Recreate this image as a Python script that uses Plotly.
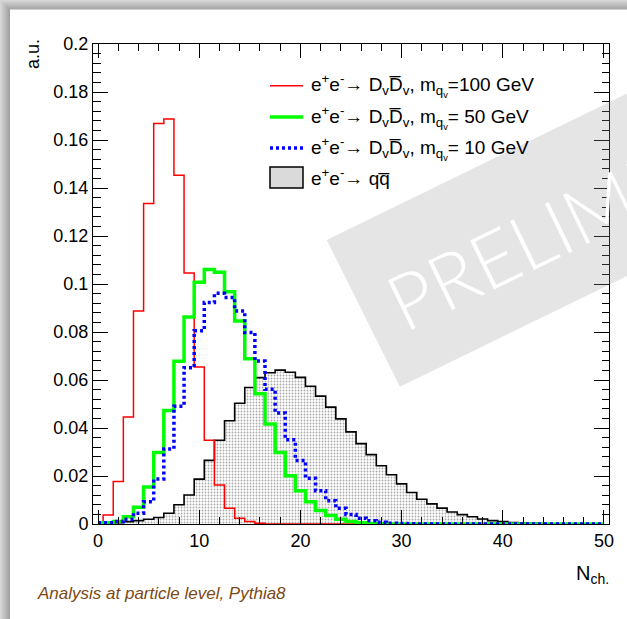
import plotly.graph_objects as go

# ---------------- data ----------------
n_ch = list(range(0, 51))  # bin centres

red_100 = [0, 0.0038, 0.0177, 0.0446, 0.0888, 0.1335, 0.1669, 0.1687, 0.1453, 0.1046,
           0.0654, 0.0349, 0.0163, 0.0066, 0.0024, 0.0010, 0.0003, 0, 0, 0,
           0, 0, 0, 0, 0, 0, 0, 0, 0, 0,
           0, 0, 0, 0, 0, 0, 0, 0, 0, 0,
           0, 0, 0, 0, 0, 0, 0, 0, 0, 0,
           0]

green_50 = [0, 0.0005, 0.0010, 0.0030, 0.0070, 0.0154, 0.0298, 0.0473, 0.0678, 0.0863,
            0.1007, 0.1060, 0.1049, 0.0968, 0.0846, 0.0689, 0.0543, 0.0417, 0.0298, 0.0201,
            0.0139, 0.0093, 0.0056, 0.0035, 0.0020, 0.0010, 0.0005, 0.0002, 0.0001, 0,
            0, 0, 0, 0, 0, 0, 0, 0, 0, 0,
            0, 0, 0, 0, 0, 0, 0, 0, 0, 0,
            0]

blue_10 = [0.0005, 0.0005, 0.0010, 0.0020, 0.0045, 0.0093, 0.0187, 0.0313, 0.0491, 0.0651,
           0.0805, 0.0923, 0.0961, 0.0944, 0.0888, 0.0798, 0.0679, 0.0561, 0.0463, 0.0351,
           0.0265, 0.0191, 0.0139, 0.0097, 0.0066, 0.0040, 0.0024, 0.0014, 0.0007, 0.0003,
           0.0002, 0.0001, 0, 0, 0, 0, 0, 0, 0, 0,
           0, 0, 0, 0, 0, 0, 0, 0, 0, 0,
           0]

qq_bar = [0, 0.0005, 0.0005, 0.0010, 0.0014, 0.0020, 0.0027, 0.0045, 0.0080, 0.0121,
          0.0187, 0.0265, 0.0349, 0.0430, 0.0503, 0.0569, 0.0610, 0.0630, 0.0641, 0.0632,
          0.0611, 0.0574, 0.0533, 0.0487, 0.0438, 0.0384, 0.0335, 0.0289, 0.0243, 0.0205,
          0.0167, 0.0131, 0.0103, 0.0084, 0.0066, 0.0050, 0.0039, 0.0030, 0.0021, 0.0014,
          0.0010, 0.0006, 0.0004, 0.0003, 0.0002, 0.0001, 0.0001, 0.0001, 0.0001, 0,
          0]

DBAR = "D\u0305"
legend_labels = [
    "e<sup>+</sup>e<sup>-</sup>\u2192 D<sub>v</sub>" + DBAR + "<sub>v</sub>, m<sub>q<sub>v</sub></sub>=100 GeV",
    "e<sup>+</sup>e<sup>-</sup>\u2192 D<sub>v</sub>" + DBAR + "<sub>v</sub>, m<sub>q<sub>v</sub></sub>= 50 GeV",
    "e<sup>+</sup>e<sup>-</sup>\u2192 D<sub>v</sub>" + DBAR + "<sub>v</sub>, m<sub>q<sub>v</sub></sub>= 10 GeV",
    "e<sup>+</sup>e<sup>-</sup>\u2192 qq\u0305",
]
colors = ["#ff0000", "#00ff00", "#0000ff", "black"]

FONT = "Liberation Sans, Arial, Helvetica, sans-serif"

# ---------------- geometry helpers (pixel -> paper) ----------------
L, R, T, B = 93, 18, 44, 95
W, H = 627, 619
PW, PH = W - L - R, H - T - B


def px(x):
    return (x - L) / PW


def py(y):
    return (H - B - y) / PH


fig = go.Figure()

fig.add_trace(go.Scatter(
    x=n_ch, y=qq_bar, name=legend_labels[3], showlegend=False,
    mode="lines", line=dict(color="black", width=1.6, shape="hvh"),
    fill="tozeroy",
    fillpattern=dict(shape=".", size=3, solidity=0.3, fgcolor="#555555", bgcolor="white"),
))
fig.add_trace(go.Scatter(
    x=n_ch, y=red_100, name=legend_labels[0], showlegend=False,
    mode="lines", line=dict(color=colors[0], width=1.5, shape="hvh"),
))
fig.add_trace(go.Scatter(
    x=n_ch, y=green_50, name=legend_labels[1], showlegend=False,
    mode="lines", line=dict(color=colors[1], width=3.5, shape="hvh"),
))
fig.add_trace(go.Scatter(
    x=n_ch, y=blue_10, name=legend_labels[2], showlegend=False,
    mode="lines", line=dict(color=colors[2], width=3.5, shape="hvh", dash="3px,3px"),
))

shapes = []
# page shadow (gradient strips) and white panel
for i in range(10):
    g = int(215 - i * 6)
    col = f"rgb({g},{g},{g})"
    shapes.append(dict(type="rect", xref="paper", yref="paper", layer="below",
                       x0=px(i), x1=px(700), y0=py(700), y1=py(i),
                       line=dict(width=0), fillcolor=col))
shapes.append(dict(type="rect", xref="paper", yref="paper", layer="below",
                   x0=px(10), x1=px(700), y0=py(700), y1=py(9.5),
                   line=dict(width=0), fillcolor="white"))

# legend keys
row_y = [85.7, 117.0, 148.0, 177.5]
key_x0, key_x1, text_x = 270, 303, 309
shapes.append(dict(type="line", xref="paper", yref="paper", x0=px(key_x0), x1=px(key_x1),
                   y0=py(row_y[0]), y1=py(row_y[0]), line=dict(color=colors[0], width=1.5)))
shapes.append(dict(type="line", xref="paper", yref="paper", x0=px(key_x0), x1=px(key_x1),
                   y0=py(row_y[1]), y1=py(row_y[1]), line=dict(color=colors[1], width=3.5)))
shapes.append(dict(type="line", xref="paper", yref="paper", x0=px(key_x0), x1=px(key_x1),
                   y0=py(row_y[2]), y1=py(row_y[2]), line=dict(color=colors[2], width=3.5, dash="3px,3px")))
shapes.append(dict(type="rect", xref="paper", yref="paper", x0=px(key_x0), x1=px(key_x1),
                   y0=py(row_y[3] + 10.5), y1=py(row_y[3] - 10.5),
                   line=dict(color="black", width=1.5), fillcolor="#dadada"))

# watermark band
A = (326.7, 240.0)
Bp = (400.0, 386.7)
C = (939.0, 124.0)
D = (866.0, -23.0)
path = "M {},{} L {},{} L {},{} L {},{} Z".format(
    px(A[0]), py(A[1]), px(Bp[0]), py(Bp[1]), px(C[0]), py(C[1]), px(D[0]), py(D[1]))
shapes.append(dict(type="path", path=path, xref="paper", yref="paper", layer="above",
                   line=dict(width=0), fillcolor="rgba(150,150,150,0.25)"))

annotations = [
    dict(text="PRELIMINARY", x=px(609), y=py(200), xref="paper", yref="paper",
         showarrow=False, textangle=-26, xanchor="center", yanchor="middle",
         font=dict(family="Lato, Liberation Sans, sans-serif", size=77, color="white", weight=300)),
    dict(text="a.u.", x=px(33), y=py(54), xref="paper", yref="paper", showarrow=False,
         textangle=-90, xanchor="center", yanchor="middle",
         font=dict(family=FONT, size=18, color="black")),
    dict(text="N<sub>ch.</sub>", x=px(611), y=py(574), xref="paper", yref="paper",
         showarrow=False, xanchor="right", yanchor="middle",
         font=dict(family=FONT, size=20, color="black")),
    dict(text="<i>Analysis at particle level, Pythia8</i>", x=px(35), y=py(593),
         xref="paper", yref="paper", showarrow=False, xanchor="left", yanchor="middle",
         font=dict(family=FONT, size=17, color="#7b4a14")),
]
for lbl, yy in zip(legend_labels, row_y):
    annotations.append(dict(text=lbl, x=px(text_x), y=py(yy), xref="paper", yref="paper",
                            showarrow=False, xanchor="left", yanchor="middle",
                            font=dict(family=FONT, size=19, color="black")))

fig.update_layout(
    width=W, height=H,
    margin=dict(l=L, r=R, t=T, b=B, pad=0),
    paper_bgcolor="rgb(222,222,222)",
    plot_bgcolor="white",
    font=dict(family=FONT, size=18, color="black"),
    shapes=shapes,
    annotations=annotations,
    showlegend=False,
)

fig.update_xaxes(
    range=[-0.5, 50.5], tick0=0, dtick=10, ticks="inside", ticklen=14, tickwidth=1,
    tickcolor="black", showline=True, linecolor="black", linewidth=1, mirror="allticks",
    showgrid=False, zeroline=False, tickfont=dict(size=18),
    minor=dict(dtick=2, tick0=0, ticks="inside", ticklen=7, tickcolor="black", showgrid=False),
)
fig.update_yaxes(
    range=[0, 0.2], tick0=0, dtick=0.02, ticks="inside", ticklen=15, tickwidth=1,
    tickcolor="black", showline=True, linecolor="black", linewidth=1, mirror="allticks",
    showgrid=False, zeroline=False, tickfont=dict(size=18),
    minor=dict(dtick=0.004, tick0=0, ticks="inside", ticklen=7.5, tickcolor="black", showgrid=False),
)

fig.write_html("out.html")
